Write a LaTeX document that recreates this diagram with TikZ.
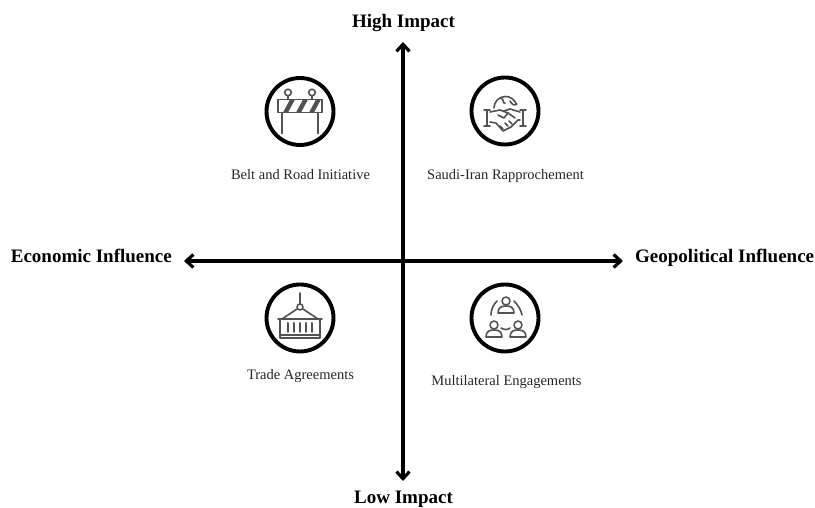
\documentclass[tikz,border=0pt]{standalone}
\usepackage{fontspec}
\setmainfont{Liberation Serif}
\usetikzlibrary{arrows.meta}
\usetikzlibrary{positioning}
\tikzset{
  axislabel/.style={font=\bfseries\fontsize{19}{21}\selectfont, inner sep=0pt, anchor=base},
  itemlabel/.style={font=\fontsize{14.5}{16}\selectfont, text=black!85, inner sep=0pt, anchor=base},
  axisline/.style={line width=3.2pt, {Straight Barb[length=7pt,width=13pt]}-{Straight Barb[length=7pt,width=13pt]}},
  ring/.style={circle, draw, line width=3.9pt, minimum size=67pt, inner sep=0pt},
  icon/.style={draw=black!68, line width=1.6pt, line join=round, line cap=round},
}
\begin{document}
\begin{tikzpicture}[x=1pt, y=1pt]
\useasboundingbox (0,0) rectangle (815,508);

% axes
\node[axislabel] (high) at (403.5,480) {High Impact};
\node[axislabel] (low) at (403.5,4.2) {Low Impact};
\node[axislabel, anchor=base east] (econ) at (172,245) {Economic Influence};
\node[axislabel, anchor=base west] (geo) at (635,245) {Geopolitical Influence};
\coordinate (north) at (403,466);
\coordinate (south) at (403,27);
\coordinate (west) at (184,247);
\coordinate (east) at (623,247);
\draw[axisline] (north) -- (south);
\draw[axisline] (west) -- (east);

% rings
\node[ring] (road) at (300,396.5) {};
\node[ring] (saudi) at (505,397) {};
\node[ring] (trade) at (300,190) {};
\node[ring] (multi) at (505,190) {};

% labels
\node[itemlabel] (roadtext) at (300.5,328) {Belt and Road Initiative};
\node[itemlabel] (sauditext) at (505.5,328) {Saudi-Iran Rapprochement};
\node[itemlabel] (tradetext) at (300.5,128) {Trade Agreements};
\node[itemlabel] (multitext) at (506.5,122) {Multilateral Engagements};

% barrier
\begin{scope}[shift={(road.center)}]
\draw[icon] (-22,-1) rectangle (22,12);
\draw[icon] (-18,-1) -- (-18,-22) (18,-1) -- (18,-22);
\draw[icon] (-12,19) circle (3.3) (12,19) circle (3.3);
\draw[icon] (-12,15.7) -- (-12,12) (12,15.7) -- (12,12);
\foreach \sx in {-17,-4,9}
  \fill[black!68] (\sx,-1) -- (\sx+5,-1) -- (\sx+12,12) -- (\sx+7,12) -- cycle;
\end{scope}

% handshake
\begin{scope}[shift={(saudi.center)}]
\draw[icon] (-11,3) arc (180:20:11.5);
\draw[icon] (-4,13) .. controls (0,11) and (-3,7) .. (0,8);
\draw[icon] (5,10) .. controls (7,6) and (10,5) .. (12,7);
\draw[icon] (-21,1) -- (-15,1) (-21,-15) -- (-15,-15) (-18,1) -- (-18,-15);
\draw[icon] (21,1) -- (15,1) (21,-15) -- (15,-15) (18,1) -- (18,-15);
\draw[icon] (-15,-1) -- (-5,1) -- (3,-2) -- (-1,-7) -- (-7,-4);
\draw[icon] (-15,-11) -- (-9,-12) -- (-2,-20) -- (6,-16) -- (13,-9) -- (15,-9);
\draw[icon] (-1,0) -- (5,2) -- (15,-1);
\draw[icon] (3,-2) -- (10,-7) (-5,-15) -- (-2,-18) (0,-12) -- (3,-15) (4,-10) -- (7,-13);
\end{scope}

% container
\begin{scope}[shift={(trade.center)}]
\draw[icon] (0,25) -- (0,14);
\draw[icon] (0,11) circle (3);
\draw[icon] (-3,9) -- (-18,-1) (3,9) -- (18,-1);
\draw[icon] (-22,-1) -- (22,-1);
\draw[icon] (-20,-1) -- (-20,-20) -- (20,-20) -- (20,-1);
\draw[icon] (-20,-17) -- (20,-17);
\foreach \bx in {-12,-6,0,6,12}
  \draw[icon, line width=2pt] (\bx,-5) -- (\bx,-14);
\end{scope}

% people
\begin{scope}[shift={(multi.center)}]
\foreach \hx/\hy in {1/17,-11/-7,13/-7}{
  \draw[icon] (\hx,\hy) circle (4);
  \draw[icon] (\hx-8,\hy-12) .. controls (\hx-8,\hy-6) and (\hx-4,\hy-5) .. (\hx,\hy-5) .. controls (\hx+4,\hy-5) and (\hx+8,\hy-6) .. (\hx+8,\hy-12) -- cycle;
}
\draw[icon] (-8,17) .. controls (-12,13) and (-14,8) .. (-14,3);
\draw[icon] (9,17) .. controls (13,13) and (16,8) .. (17,3);
\draw[icon] (-4,-10) .. controls (-1,-12) and (3,-12) .. (5,-10);
\end{scope}

\end{tikzpicture}
\end{document}
